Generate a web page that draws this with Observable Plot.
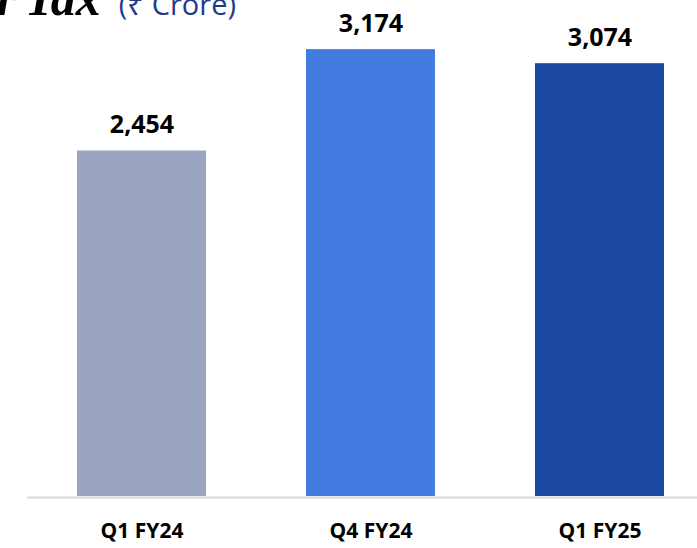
<!DOCTYPE html>
<html>
<head>
<meta charset="utf-8">
<script src="https://cdn.jsdelivr.net/npm/d3@7"></script>
<script src="https://cdn.jsdelivr.net/npm/@observablehq/plot@0.6"></script>
<style>
  html, body { margin: 0; padding: 0; background: #fff; }
  #wrap { position: relative; width: 697px; height: 548px; overflow: hidden; }
  #title { position: absolute; right: 461px; top: -27px; white-space: nowrap; line-height: 1; }
  #title .main { font-family: "Liberation Serif", serif; font-weight: 700; font-style: italic; font-size: 50px; color: #000; word-spacing: -4px; }
  #title .unit { font-family: "Open Sans", sans-serif; font-size: 29px; color: #1f3b8c; margin-left: 18px; }
</style>
</head>
<body>
<div id="wrap">
  <div id="chart"></div>
  <div id="title"><span class="main">Profit After Tax</span><span class="unit">(₹ Crore)</span></div>
</div>
<script>
const categories = ["Q1 FY24", "Q4 FY24", "Q1 FY25"];
const values = [2454, 3174, 3074];
const colors = ["#9ba5c1", "#437ce0", "#1a479f"];

const data = categories.map((c, i) => ({ category: c, value: values[i] }));
const fmt = d3.format(",");

const chart = Plot.plot({
  width: 697,
  height: 548,
  marginTop: 0,
  marginBottom: 52,
  marginLeft: 27,
  marginRight: 0,
  style: { fontFamily: "'Open Sans', sans-serif", background: "#fff", color: "#000" },
  x: { domain: categories, paddingInner: 0.437, paddingOuter: 0.18, align: 0.6, label: null },
  y: { domain: [0, 3523], axis: null },
  color: { domain: categories, range: colors },
  marks: [
    Plot.barY(data, { x: "category", y: "value", fill: "category" }),
    Plot.ruleY([0], { stroke: "#d9d9d9", strokeWidth: 2, dy: 1 }),
    Plot.text(data, { x: "category", y: "value", text: d => fmt(d.value), dy: -18, lineAnchor: "bottom", fontSize: 25, fontWeight: 700, fill: "#000" }),
    Plot.axisX({ tickSize: 0, tickPadding: 27, fontSize: 21, fontWeight: 700, fill: "#000" })
  ]
});
document.getElementById("chart").appendChild(chart);
</script>
</body>
</html>
